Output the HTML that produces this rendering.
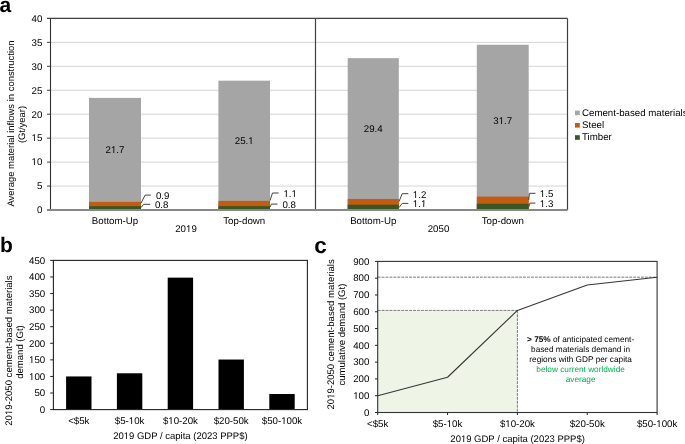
<!DOCTYPE html>
<html><head><meta charset="utf-8"><style>
html,body{margin:0;padding:0;background:#fff;width:685px;height:444px;overflow:hidden}
svg{display:block}
text{font-family:"Liberation Sans", sans-serif;font-size:9.7px;fill:#000;text-rendering:geometricPrecision}
#w{position:absolute;left:0;top:0;will-change:transform}
</style></head><body>
<div id="w"><svg width="685" height="444" viewBox="0 0 685 444">
<line x1="50.5" y1="186.05" x2="567.5" y2="186.05" stroke="#d4d4d4" stroke-width="1"/>
<line x1="50.5" y1="162.10" x2="567.5" y2="162.10" stroke="#d4d4d4" stroke-width="1"/>
<line x1="50.5" y1="138.15" x2="567.5" y2="138.15" stroke="#d4d4d4" stroke-width="1"/>
<line x1="50.5" y1="114.20" x2="567.5" y2="114.20" stroke="#d4d4d4" stroke-width="1"/>
<line x1="50.5" y1="90.25" x2="567.5" y2="90.25" stroke="#d4d4d4" stroke-width="1"/>
<line x1="50.5" y1="66.30" x2="567.5" y2="66.30" stroke="#d4d4d4" stroke-width="1"/>
<line x1="50.5" y1="42.35" x2="567.5" y2="42.35" stroke="#d4d4d4" stroke-width="1"/>
<rect x="89" y="97.91" width="52.00" height="112.09" fill="#a5a5a5"/>
<rect x="89" y="201.86" width="52.00" height="8.14" fill="#c55a11"/>
<rect x="89" y="206.17" width="52.00" height="3.83" fill="#385723"/>
<rect x="218.4" y="80.67" width="51.60" height="129.33" fill="#a5a5a5"/>
<rect x="218.4" y="200.90" width="51.60" height="9.10" fill="#c55a11"/>
<rect x="218.4" y="206.17" width="51.60" height="3.83" fill="#385723"/>
<rect x="347.7" y="58.16" width="51.10" height="151.84" fill="#a5a5a5"/>
<rect x="347.7" y="198.98" width="51.10" height="11.02" fill="#c55a11"/>
<rect x="347.7" y="204.73" width="51.10" height="5.27" fill="#385723"/>
<rect x="476.8" y="44.75" width="51.90" height="165.25" fill="#a5a5a5"/>
<rect x="476.8" y="196.59" width="51.90" height="13.41" fill="#c55a11"/>
<rect x="476.8" y="203.77" width="51.90" height="6.23" fill="#385723"/>
<line x1="47" y1="18.4" x2="567.5" y2="18.4" stroke="#404040" stroke-width="1.2"/>
<line x1="50.5" y1="18.4" x2="50.5" y2="210.0" stroke="#303030" stroke-width="1.1"/>
<line x1="567.5" y1="18.4" x2="567.5" y2="210.0" stroke="#404040" stroke-width="1.2"/>
<line x1="315.5" y1="18.4" x2="315.5" y2="210.0" stroke="#404040" stroke-width="1.2"/>
<line x1="47" y1="186.05" x2="50.5" y2="186.05" stroke="#404040" stroke-width="1"/>
<line x1="47" y1="162.10" x2="50.5" y2="162.10" stroke="#404040" stroke-width="1"/>
<line x1="47" y1="138.15" x2="50.5" y2="138.15" stroke="#404040" stroke-width="1"/>
<line x1="47" y1="114.20" x2="50.5" y2="114.20" stroke="#404040" stroke-width="1"/>
<line x1="47" y1="90.25" x2="50.5" y2="90.25" stroke="#404040" stroke-width="1"/>
<line x1="47" y1="66.30" x2="50.5" y2="66.30" stroke="#404040" stroke-width="1"/>
<line x1="47" y1="42.35" x2="50.5" y2="42.35" stroke="#404040" stroke-width="1"/>
<line x1="47" y1="210.0" x2="567.5" y2="210.0" stroke="#888" stroke-width="1.8"/>
<text x="42.3" y="213.30" text-anchor="end">0</text>
<text x="42.3" y="189.35" text-anchor="end">5</text>
<text x="42.3" y="165.40" text-anchor="end">10</text><rect x="31.729" y="162.00" width="5.211" height="3.6" fill="#fff"/><rect x="33.958" y="162.00" width="0.857" height="3" fill="#000"/>
<text x="42.3" y="141.45" text-anchor="end">15</text><rect x="31.729" y="138.00" width="5.211" height="3.6" fill="#fff"/><rect x="33.958" y="138.00" width="0.857" height="3" fill="#000"/>
<text x="42.3" y="117.50" text-anchor="end">20</text>
<text x="42.3" y="93.55" text-anchor="end">25</text>
<text x="42.3" y="69.60" text-anchor="end">30</text>
<text x="42.3" y="45.65" text-anchor="end">35</text>
<text x="42.3" y="21.70" text-anchor="end">40</text>
<text x="115" y="224.1" text-anchor="middle">Bottom-Up</text>
<text x="244.2" y="224.1" text-anchor="middle">Top-down</text>
<text x="373.3" y="224.1" text-anchor="middle">Bottom-Up</text>
<text x="502.8" y="224.1" text-anchor="middle">Top-down</text>
<text x="186" y="232" text-anchor="middle">2019</text><rect x="186.195" y="229.00" width="5.211" height="3.6" fill="#fff"/><rect x="188.424" y="229.00" width="0.857" height="3" fill="#000"/>
<text x="438.5" y="232" text-anchor="middle">2050</text>
<text x="115.00" y="153.49" text-anchor="middle">21.7</text><rect x="111.156" y="150.00" width="5.211" height="3.6" fill="#a5a5a5"/><rect x="113.385" y="150.00" width="0.857" height="3" fill="#000"/>
<text x="244.20" y="144.38" text-anchor="middle">25.1</text><rect x="248.434" y="141.00" width="5.211" height="3.6" fill="#a5a5a5"/><rect x="250.663" y="141.00" width="0.857" height="3" fill="#000"/>
<text x="373.25" y="132.17" text-anchor="middle">29.4</text>
<text x="502.75" y="124.27" text-anchor="middle">31.7</text><rect x="498.906" y="121.00" width="5.211" height="3.6" fill="#a5a5a5"/><rect x="501.135" y="121.00" width="0.857" height="3" fill="#000"/>
<polyline points="141,203.2 145.1,195.1 150.8,195.1" fill="none" stroke="#404040" stroke-width="1"/>
<text class="ll" x="155.9" y="198.5">0.9</text>
<polyline points="141,207.6 143.7,204.3 150.2,204.3" fill="none" stroke="#404040" stroke-width="1"/>
<text class="ll" x="154.9" y="207.6">0.8</text>
<polyline points="270,200.5 272.5,193 278.6,193" fill="none" stroke="#404040" stroke-width="1"/>
<text class="ll" x="283.4" y="196.9">1.1</text><rect x="283.610" y="194.00" width="5.211" height="3.6" fill="#fff"/><rect x="285.839" y="194.00" width="0.857" height="3" fill="#000"/><rect x="291.689" y="194.00" width="5.211" height="3.6" fill="#fff"/><rect x="293.917" y="194.00" width="0.857" height="3" fill="#000"/>
<polyline points="270,207.2 271.4,204.1 277.5,204.1" fill="none" stroke="#404040" stroke-width="1"/>
<text class="ll" x="282.4" y="207.7">0.8</text>
<polyline points="399,201.6 402.2,193.7 408.3,193.7" fill="none" stroke="#404040" stroke-width="1"/>
<text class="ll" x="412.8" y="197.7">1.2</text><rect x="413.010" y="195.00" width="5.211" height="3.6" fill="#fff"/><rect x="415.239" y="195.00" width="0.857" height="3" fill="#000"/>
<polyline points="399,207.6 402.2,203.4 408.3,203.4" fill="none" stroke="#404040" stroke-width="1"/>
<text class="ll" x="412.8" y="207">1.1</text><rect x="413.010" y="204.00" width="5.211" height="3.6" fill="#fff"/><rect x="415.239" y="204.00" width="0.857" height="3" fill="#000"/><rect x="421.089" y="204.00" width="5.211" height="3.6" fill="#fff"/><rect x="423.317" y="204.00" width="0.857" height="3" fill="#000"/>
<polyline points="528.7,200 529.4,193.3 535.5,193.3" fill="none" stroke="#404040" stroke-width="1"/>
<text class="ll" x="539.8" y="196.9">1.5</text><rect x="540.010" y="194.00" width="5.211" height="3.6" fill="#fff"/><rect x="542.239" y="194.00" width="0.857" height="3" fill="#000"/>
<polyline points="528.7,207 529.8,203.1 535.5,203.1" fill="none" stroke="#404040" stroke-width="1"/>
<text class="ll" x="539.8" y="206.7">1.3</text><rect x="540.010" y="204.00" width="5.211" height="3.6" fill="#fff"/><rect x="542.239" y="204.00" width="0.857" height="3" fill="#000"/>
<rect x="575" y="110.6" width="4.8" height="4.6" fill="#a5a5a5"/>
<text x="582" y="115.6">Cement-based materials</text>
<rect x="575" y="123" width="4.8" height="4.6" fill="#c55a11"/>
<text x="582" y="128">Steel</text>
<rect x="575" y="135.2" width="4.8" height="4.6" fill="#385723"/>
<text x="582" y="140.2">Timber</text>
<text transform="translate(14,123.5) rotate(-90)" text-anchor="middle" style="font-size:9.45px">Average material inflows in construction</text>
<text transform="translate(24.9,124.5) rotate(-90)" text-anchor="middle" style="font-size:9.45px">(Gt/year)</text>
<text x="-0.6" y="11.7" style="font-weight:bold;font-size:21px">a</text>
<rect x="66.10" y="376.44" width="25.4" height="33.16" fill="#000"/>
<rect x="116.90" y="373.29" width="25.4" height="36.31" fill="#000"/>
<rect x="167.70" y="277.64" width="25.4" height="131.96" fill="#000"/>
<rect x="218.50" y="359.54" width="25.4" height="50.06" fill="#000"/>
<rect x="269.30" y="394.02" width="25.4" height="15.58" fill="#000"/>
<rect x="53.4" y="260.4" width="253.99999999999997" height="149.20000000000005" fill="none" stroke="#222" stroke-width="1.1"/>
<line x1="50.2" y1="409.60" x2="53.4" y2="409.60" stroke="#222" stroke-width="1"/>
<text x="45.2" y="412.90" text-anchor="end">0</text>
<line x1="50.2" y1="393.02" x2="53.4" y2="393.02" stroke="#222" stroke-width="1"/>
<text x="45.2" y="396.32" text-anchor="end">50</text>
<line x1="50.2" y1="376.44" x2="53.4" y2="376.44" stroke="#222" stroke-width="1"/>
<text x="45.2" y="379.74" text-anchor="end">100</text><rect x="29.239" y="377.00" width="5.211" height="3.6" fill="#fff"/><rect x="31.467" y="377.00" width="0.857" height="3" fill="#000"/>
<line x1="50.2" y1="359.87" x2="53.4" y2="359.87" stroke="#222" stroke-width="1"/>
<text x="45.2" y="363.17" text-anchor="end">150</text><rect x="29.239" y="360.00" width="5.211" height="3.6" fill="#fff"/><rect x="31.467" y="360.00" width="0.857" height="3" fill="#000"/>
<line x1="50.2" y1="343.29" x2="53.4" y2="343.29" stroke="#222" stroke-width="1"/>
<text x="45.2" y="346.59" text-anchor="end">200</text>
<line x1="50.2" y1="326.71" x2="53.4" y2="326.71" stroke="#222" stroke-width="1"/>
<text x="45.2" y="330.01" text-anchor="end">250</text>
<line x1="50.2" y1="310.13" x2="53.4" y2="310.13" stroke="#222" stroke-width="1"/>
<text x="45.2" y="313.43" text-anchor="end">300</text>
<line x1="50.2" y1="293.56" x2="53.4" y2="293.56" stroke="#222" stroke-width="1"/>
<text x="45.2" y="296.86" text-anchor="end">350</text>
<line x1="50.2" y1="276.98" x2="53.4" y2="276.98" stroke="#222" stroke-width="1"/>
<text x="45.2" y="280.28" text-anchor="end">400</text>
<line x1="50.2" y1="260.40" x2="53.4" y2="260.40" stroke="#222" stroke-width="1"/>
<text x="45.2" y="263.70" text-anchor="end">450</text>
<text x="78.80" y="424" text-anchor="middle">&lt;$5k</text>
<text x="129.60" y="424" text-anchor="middle">$5-10k</text><rect x="128.998" y="421.00" width="5.211" height="3.6" fill="#fff"/><rect x="131.227" y="421.00" width="0.857" height="3" fill="#000"/>
<text x="180.40" y="424" text-anchor="middle">$10-20k</text><rect x="168.478" y="421.00" width="5.211" height="3.6" fill="#fff"/><rect x="170.706" y="421.00" width="0.857" height="3" fill="#000"/>
<text x="231.20" y="424" text-anchor="middle">$20-50k</text>
<text x="282.00" y="424" text-anchor="middle">$50-100k</text><rect x="281.382" y="421.00" width="5.211" height="3.6" fill="#fff"/><rect x="283.611" y="421.00" width="0.857" height="3" fill="#000"/>
<text x="180.4" y="439" text-anchor="middle" style="font-size:9.5px">2019 GDP / capita (2023 PPP$)</text><rect x="123.908" y="436.00" width="5.124" height="3.6" fill="#fff"/><rect x="126.101" y="436.00" width="0.840" height="3" fill="#000"/>
<text transform="translate(12.1,350.6) rotate(-90)" text-anchor="middle" style="font-size:9.55px">2019-2050 cement-based materials</text><g transform="translate(12.1,350.6) rotate(-90)"><rect x="-64.285" y="-3.00" width="5.145" height="3.6" fill="#fff"/><rect x="-62.083" y="-3.00" width="0.844" height="3" fill="#000"/></g>
<text transform="translate(22.9,352) rotate(-90)" text-anchor="middle" style="font-size:9.55px">demand (Gt)</text>
<text x="0" y="251.6" style="font-weight:bold;font-size:21px">b</text>
<rect x="377.7" y="310.42" width="139.70" height="102.08" fill="#eef5e7"/>
<line x1="377.7" y1="277.18" x2="657.1" y2="277.18" stroke="#7a7a7a" stroke-width="1" stroke-dasharray="2.9 1.03"/>
<line x1="377.7" y1="310.42" x2="517.40" y2="310.42" stroke="#7a7a7a" stroke-width="1" stroke-dasharray="2.9 1.03"/>
<line x1="517.40" y1="310.42" x2="517.40" y2="412.5" stroke="#7a7a7a" stroke-width="1" stroke-dasharray="2.9 1.03"/>
<polyline points="377.70,395.71 447.55,377.24 517.40,310.42 587.25,285.07 657.10,277.18" fill="none" stroke="#363636" stroke-width="1.1" stroke-linejoin="round"/>
<rect x="377.7" y="261.4" width="279.40" height="151.10" fill="none" stroke="#333" stroke-width="1.1"/>
<line x1="375" y1="412.50" x2="377.7" y2="412.50" stroke="#222" stroke-width="1"/>
<text x="369.4" y="415.80" text-anchor="end">0</text>
<line x1="375" y1="395.71" x2="377.7" y2="395.71" stroke="#222" stroke-width="1"/>
<text x="369.4" y="399.01" text-anchor="end">100</text><rect x="353.439" y="396.00" width="5.211" height="3.6" fill="#fff"/><rect x="355.667" y="396.00" width="0.857" height="3" fill="#000"/>
<line x1="375" y1="378.92" x2="377.7" y2="378.92" stroke="#222" stroke-width="1"/>
<text x="369.4" y="382.22" text-anchor="end">200</text>
<line x1="375" y1="362.13" x2="377.7" y2="362.13" stroke="#222" stroke-width="1"/>
<text x="369.4" y="365.43" text-anchor="end">300</text>
<line x1="375" y1="345.34" x2="377.7" y2="345.34" stroke="#222" stroke-width="1"/>
<text x="369.4" y="348.64" text-anchor="end">400</text>
<line x1="375" y1="328.56" x2="377.7" y2="328.56" stroke="#222" stroke-width="1"/>
<text x="369.4" y="331.86" text-anchor="end">500</text>
<line x1="375" y1="311.77" x2="377.7" y2="311.77" stroke="#222" stroke-width="1"/>
<text x="369.4" y="315.07" text-anchor="end">600</text>
<line x1="375" y1="294.98" x2="377.7" y2="294.98" stroke="#222" stroke-width="1"/>
<text x="369.4" y="298.28" text-anchor="end">700</text>
<line x1="375" y1="278.19" x2="377.7" y2="278.19" stroke="#222" stroke-width="1"/>
<text x="369.4" y="281.49" text-anchor="end">800</text>
<line x1="375" y1="261.40" x2="377.7" y2="261.40" stroke="#222" stroke-width="1"/>
<text x="369.4" y="264.70" text-anchor="end">900</text>
<line x1="377.70" y1="412.5" x2="377.70" y2="415" stroke="#222" stroke-width="1"/>
<text x="377.70" y="427" text-anchor="middle">&lt;$5k</text>
<line x1="447.55" y1="412.5" x2="447.55" y2="415" stroke="#222" stroke-width="1"/>
<text x="447.55" y="427" text-anchor="middle">$5-10k</text><rect x="446.948" y="424.00" width="5.211" height="3.6" fill="#fff"/><rect x="449.177" y="424.00" width="0.857" height="3" fill="#000"/>
<line x1="517.40" y1="412.5" x2="517.40" y2="415" stroke="#222" stroke-width="1"/>
<text x="517.40" y="427" text-anchor="middle">$10-20k</text><rect x="505.478" y="424.00" width="5.211" height="3.6" fill="#fff"/><rect x="507.706" y="424.00" width="0.857" height="3" fill="#000"/>
<line x1="587.25" y1="412.5" x2="587.25" y2="415" stroke="#222" stroke-width="1"/>
<text x="587.25" y="427" text-anchor="middle">$20-50k</text>
<line x1="657.10" y1="412.5" x2="657.10" y2="415" stroke="#222" stroke-width="1"/>
<text x="657.10" y="427" text-anchor="middle">$50-100k</text><rect x="656.482" y="424.00" width="5.211" height="3.6" fill="#fff"/><rect x="658.711" y="424.00" width="0.857" height="3" fill="#000"/>
<text x="517.6" y="441.8" text-anchor="middle" style="font-size:9.5px">2019 GDP / capita (2023 PPP$)</text><rect x="461.108" y="439.00" width="5.124" height="3.6" fill="#fff"/><rect x="463.301" y="439.00" width="0.840" height="3" fill="#000"/>
<text transform="translate(334.4,334.4) rotate(-90)" text-anchor="middle" style="font-size:9.55px">2019-2050 cement-based materials</text><g transform="translate(334.4,334.4) rotate(-90)"><rect x="-64.285" y="-3.00" width="5.145" height="3.6" fill="#fff"/><rect x="-62.083" y="-3.00" width="0.844" height="3" fill="#000"/></g>
<text transform="translate(344.6,334.6) rotate(-90)" text-anchor="middle" style="font-size:9.55px">cumulative demand (Gt)</text>
<text x="314.3" y="253.4" style="font-weight:bold;font-size:22.5px">c</text>
<text x="580.6" y="342.2" text-anchor="middle" style="font-size:8.25px;fill:#000"><tspan font-weight="bold">&gt; 75%</tspan> of anticipated cement-</text>
<text x="580.6" y="352" text-anchor="middle" style="font-size:8.25px;fill:#000">based materials demand in</text>
<text x="580.6" y="361.6" text-anchor="middle" style="font-size:8.25px;fill:#000">regions with GDP per capita</text>
<text x="580.6" y="372" text-anchor="middle" style="font-size:8.25px;fill:#00b050">below current worldwide</text>
<text x="580.6" y="381.5" text-anchor="middle" style="font-size:8.25px;fill:#00b050">average</text>
</svg></div>
</body></html>
